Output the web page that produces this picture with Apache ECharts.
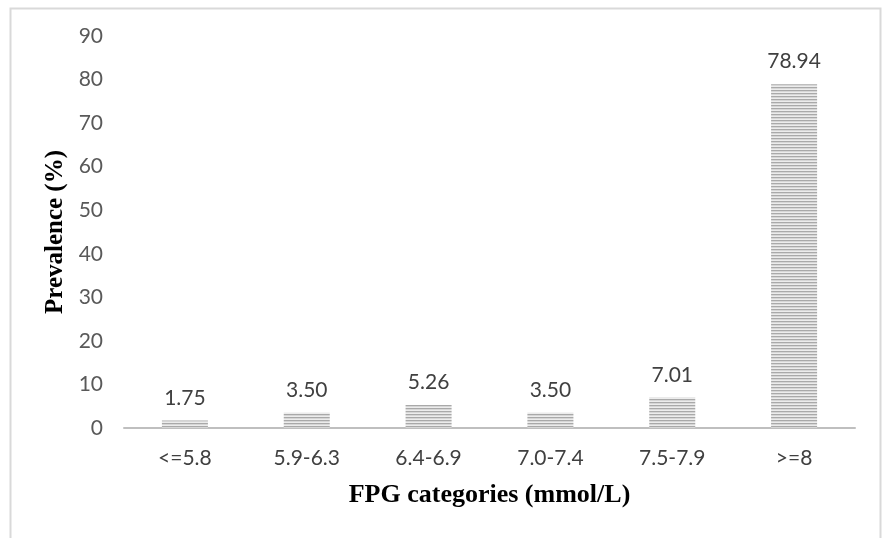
<!DOCTYPE html>
<html><head><meta charset="utf-8">
<script src="https://cdn.jsdelivr.net/npm/echarts@6/dist/echarts.min.js"></script>
<style>html,body{margin:0;padding:0;background:#fff}#c{width:882px;height:538px}</style>
</head><body><div id="c"></div>
<script>
var categories = ['<=5.8','5.9-6.3','6.4-6.9','7.0-7.4','7.5-7.9','>=8'];
var prevalence = [1.75, 3.50, 5.26, 3.50, 7.01, 78.94];
var yTicks = [0,10,20,30,40,50,60,70,80,90];

var cv = document.createElement('canvas');
cv.width = 4; cv.height = 3;
var ctx = cv.getContext('2d');
ctx.fillStyle = '#a9a9a9'; ctx.fillRect(0,0,4,1);
ctx.fillStyle = '#d6d6d6'; ctx.fillRect(0,1,4,1);
ctx.fillStyle = '#ececec'; ctx.fillRect(0,2,4,1);

var chart = echarts.init(document.getElementById('c'));
chart.setOption({
  animation: false,
  backgroundColor: '#fff',
  graphic: [{type:'rect', shape:{x:10.5,y:8.5,width:870,height:540}, style:{fill:'none', stroke:'#d9d9d9', lineWidth:2}}],
  grid: {left:124, right:27, top:36, bottom:110},
  xAxis: {
    type:'category', data: categories,
    axisLine:{lineStyle:{color:'#bfbfbf', width:2}},
    axisTick:{show:false},
    axisLabel:{color:'#404040', fontSize:21, fontFamily:'Lato', margin:20},
    name:'FPG categories (mmol/L)', nameLocation:'middle', nameGap:54,
    nameTextStyle:{fontFamily:'Liberation Serif', fontWeight:'bold', fontSize:26, color:'#000'}
  },
  yAxis: {
    type:'value', min:yTicks[0], max:yTicks[yTicks.length-1], interval:10,
    splitLine:{show:false}, axisLine:{show:false}, axisTick:{show:false},
    axisLabel:{color:'#595959', fontSize:21, fontFamily:'Lato', margin:21},
    name:'Prevalence (%)', nameLocation:'middle', nameGap:56,
    nameTextStyle:{fontFamily:'Liberation Serif', fontWeight:'bold', fontSize:25, color:'#000'}
  },
  series: [{
    type:'bar', data: prevalence, barWidth:46,
    itemStyle:{color:{image: cv, repeat:'repeat'}},
    label:{show:true, position:'top', distance:12, color:'#404040', fontSize:21, fontFamily:'Lato',
      formatter: function(p){return p.value.toFixed(2);}}
  }]
});
</script></body></html>
